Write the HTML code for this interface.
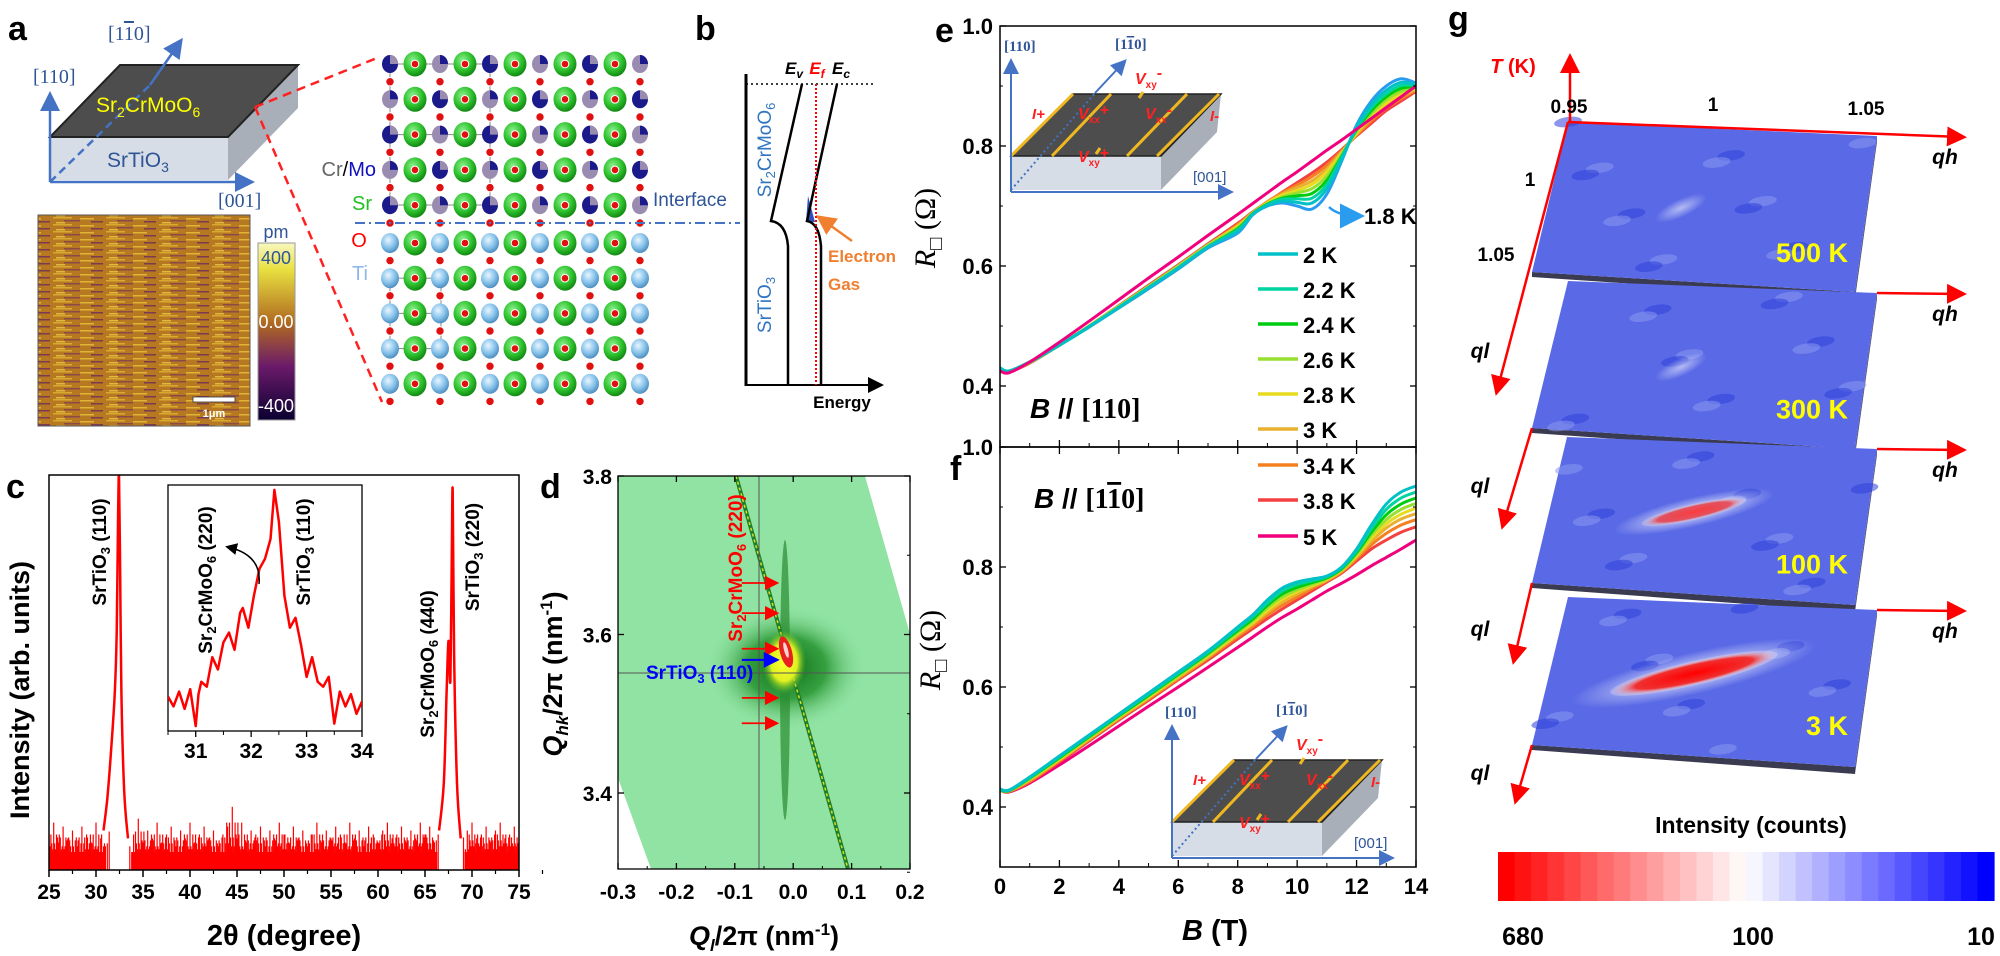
<!DOCTYPE html>
<html><head><meta charset="utf-8"><style>
html,body{margin:0;padding:0;background:#fff;}
svg{display:block;font-family:"Liberation Sans",sans-serif;}
.b{font-weight:bold;}
</style></head><body>
<svg id="fig" width="2000" height="956" viewBox="0 0 2000 956" xmlns="http://www.w3.org/2000/svg">
<defs>
 <radialGradient id="gSr" cx="40%" cy="35%" r="65%"><stop offset="0" stop-color="#8ef08e"/><stop offset="0.6" stop-color="#2fc42f"/><stop offset="1" stop-color="#138a13"/></radialGradient>
 <radialGradient id="gTi" cx="40%" cy="35%" r="65%"><stop offset="0" stop-color="#e8f6ff"/><stop offset="0.6" stop-color="#86c2ea"/><stop offset="1" stop-color="#4f8fc0"/></radialGradient>
 <radialGradient id="gBlob" cx="50%" cy="50%" r="50%"><stop offset="0" stop-color="#0c6a14"/><stop offset="0.5" stop-color="#1f8f28" stop-opacity="0.8"/><stop offset="1" stop-color="#8fe0a0" stop-opacity="0"/></radialGradient>
 <radialGradient id="gYel" cx="50%" cy="50%" r="50%"><stop offset="0" stop-color="#ffff30"/><stop offset="0.6" stop-color="#e0f020"/><stop offset="1" stop-color="#60c030" stop-opacity="0"/></radialGradient>
 <linearGradient id="gCbA" x1="0" y1="0" x2="0" y2="1"><stop offset="0" stop-color="#f8f8c0"/><stop offset="0.15" stop-color="#e8e040"/><stop offset="0.45" stop-color="#b06a20"/><stop offset="0.7" stop-color="#6a1a6a"/><stop offset="1" stop-color="#0a0030"/></linearGradient>
 <radialGradient id="gRed" cx="50%" cy="50%" r="50%"><stop offset="0" stop-color="#ff0000"/><stop offset="0.7" stop-color="#f03030"/><stop offset="1" stop-color="#ffffff" stop-opacity="0.2"/></radialGradient>
 <radialGradient id="gWhite" cx="50%" cy="50%" r="50%"><stop offset="0" stop-color="#ffffff" stop-opacity="0.9"/><stop offset="1" stop-color="#ffffff" stop-opacity="0"/></radialGradient>
 <pattern id="afmPat" width="53" height="7" patternUnits="userSpaceOnUse">
  <rect width="53" height="7" fill="#b67820"/>
  <rect x="0" y="0" width="19" height="1.5" fill="#d8a830"/>
  <rect x="27" y="1" width="14" height="1.5" fill="#e0b438"/>
  <rect x="11" y="3" width="16" height="1.5" fill="#8a4a48"/>
  <rect x="38" y="4" width="12" height="1.5" fill="#7a3a50"/>
  <rect x="3" y="5" width="9" height="1.5" fill="#e0b840"/>
 </pattern>
 <marker id="arB" markerWidth="8" markerHeight="8" refX="6" refY="4" orient="auto"><path d="M0,0 L8,4 L0,8 z" fill="#4472c4"/></marker>
 <marker id="arR" markerWidth="8" markerHeight="8" refX="6" refY="4" orient="auto"><path d="M0,0 L8,4 L0,8 z" fill="#ff0000"/></marker>
 <marker id="arK" markerWidth="8" markerHeight="8" refX="6" refY="4" orient="auto"><path d="M0,0 L8,4 L0,8 z" fill="#000"/></marker>
 <marker id="arO" markerWidth="8" markerHeight="8" refX="6" refY="4" orient="auto"><path d="M0,0 L8,4 L0,8 z" fill="#f08030"/></marker>
 <marker id="arBl" markerWidth="10" markerHeight="10" refX="8" refY="5" orient="auto"><path d="M0,0 L10,5 L0,10 z" fill="#2a9cf0"/></marker>
 <marker id="arN" markerWidth="8" markerHeight="8" refX="6" refY="4" orient="auto"><path d="M0,0 L8,4 L0,8 z" fill="#0000ff"/></marker>
 <clipPath id="clipC"><rect x="49" y="475" width="470" height="395"/></clipPath>
 <clipPath id="clipIn"><rect x="168" y="485" width="194" height="246"/></clipPath>
 <clipPath id="clipD"><rect x="618" y="476" width="292" height="393"/></clipPath>
 <clipPath id="clipE"><rect x="1000" y="26" width="416" height="421"/></clipPath>
 <clipPath id="clipF"><rect x="1000" y="447" width="416" height="420"/></clipPath>
</defs>

<!-- ========== PANEL A ========== -->
<g>
 <text x="8" y="40" font-size="34" class="b">a</text>
 <polygon points="50,137 228,137 228,180 50,180" fill="#d6dde7"/>
 <polygon points="228,137 298,65 298,108 228,180" fill="#a9afb8"/>
 <polygon points="120,65 298,65 228,137 50,137" fill="#4d4d4d" stroke="#222" stroke-width="2"/>
 <line x1="50" y1="182" x2="50" y2="96" stroke="#4472c4" stroke-width="2.5" marker-end="url(#arB)"/>
 <line x1="50" y1="182" x2="250" y2="182" stroke="#4472c4" stroke-width="2.5" marker-end="url(#arB)"/>
 <line x1="50" y1="182" x2="150" y2="85" stroke="#4472c4" stroke-width="2.5" stroke-dasharray="8,5"/>
 <line x1="150" y1="85" x2="180" y2="42" stroke="#4472c4" stroke-width="2.5" marker-end="url(#arB)"/>
 <text x="33" y="83" font-size="20" fill="#2f5597" font-family="Liberation Serif">[110]</text>
 <text x="108" y="40" font-size="20" fill="#2f5597" font-family="Liberation Serif">[1<tspan text-decoration="overline">1</tspan>0]</text>
 <text x="218" y="207" font-size="20" fill="#2f5597" font-family="Liberation Serif">[001]</text>
 <text x="96" y="112" font-size="21" fill="#ffff00">Sr<tspan font-size="14" dy="5">2</tspan><tspan dy="-5">CrMoO</tspan><tspan font-size="14" dy="5">6</tspan></text>
 <text x="107" y="167" font-size="21" fill="#2f5597">SrTiO<tspan font-size="14" dy="5">3</tspan></text>
 <line x1="255" y1="107" x2="377" y2="58" stroke="#ff2020" stroke-width="2.5" stroke-dasharray="9,6"/>
 <line x1="255" y1="107" x2="382" y2="402" stroke="#ff2020" stroke-width="2.5" stroke-dasharray="9,6"/>
 <rect x="38" y="215" width="212" height="211" fill="url(#afmPat)" stroke="#555" stroke-width="1"/>
 <rect x="193" y="397" width="42" height="5" fill="#fff" stroke="#333" stroke-width="0.8"/>
 <text x="214" y="417" font-size="11" fill="#fff" text-anchor="middle" class="b">1μm</text>
 <rect x="258" y="243" width="37" height="177" fill="url(#gCbA)" stroke="#999"/>
 <text x="276" y="238" font-size="18" fill="#2f5597" text-anchor="middle">pm</text>
 <text x="276" y="264" font-size="18" fill="#2f5597" text-anchor="middle">400</text>
 <text x="276" y="328" font-size="18" fill="#fff" text-anchor="middle">0.00</text>
 <text x="276" y="412" font-size="18" fill="#fff" text-anchor="middle">-400</text>
 <g id="lattice"></g>
 <line x1="355" y1="223" x2="740" y2="223" stroke="#4472c4" stroke-width="2" stroke-dasharray="10,4,2,4"/>
 <text x="376" y="176" font-size="20" text-anchor="end"><tspan fill="#666">Cr</tspan><tspan fill="#000">/</tspan><tspan fill="#1010c0">Mo</tspan></text>
 <text x="362" y="210" font-size="20" fill="#20c020" text-anchor="middle">Sr</text>
 <text x="359" y="247" font-size="20" fill="#ff0000" text-anchor="middle">O</text>
 <text x="360" y="280" font-size="20" fill="#8fb8e8" text-anchor="middle">Ti</text>
 <text x="653" y="206" font-size="19" fill="#2f5597">Interface</text>
</g>

<!-- ========== PANEL B ========== -->
<g>
 <text x="695" y="40" font-size="34" class="b">b</text>
 <line x1="746" y1="74" x2="746" y2="386" stroke="#000" stroke-width="3"/>
 <line x1="746" y1="385" x2="880" y2="385" stroke="#000" stroke-width="2" marker-end="url(#arK)"/>
 <text x="842" y="408" font-size="17" text-anchor="middle" class="b">Energy</text>
 <line x1="746" y1="84" x2="876" y2="84" stroke="#000" stroke-width="1.5" stroke-dasharray="2,3"/>
 <path d="M802,84 L771,221 Q786,223 788,246 L788,385" fill="none" stroke="#000" stroke-width="2.5"/>
 <path d="M808,196 L815,222 L806,222 Z" fill="#3050c0"/>
 <path d="M837,84 L807,221 Q819,223 821,246 L821,385" fill="none" stroke="#000" stroke-width="2.5"/>
 <line x1="816" y1="84" x2="816" y2="385" stroke="#ff0000" stroke-width="2" stroke-dasharray="2,2"/>
 <text x="794" y="74" font-size="17" text-anchor="middle" class="b" font-style="italic">E<tspan font-size="12" dy="4">v</tspan></text>
 <text x="817" y="74" font-size="17" text-anchor="middle" class="b" font-style="italic" fill="#ff0000">E<tspan font-size="12" dy="4">f</tspan></text>
 <text x="841" y="74" font-size="17" text-anchor="middle" class="b" font-style="italic">E<tspan font-size="12" dy="4">c</tspan></text>
 <text transform="translate(771,150) rotate(-90)" font-size="19" fill="#2f75c0" text-anchor="middle">Sr<tspan font-size="13" dy="4">2</tspan><tspan dy="-4">CrMoO</tspan><tspan font-size="13" dy="4">6</tspan></text>
 <text transform="translate(771,305) rotate(-90)" font-size="19" fill="#2f75c0" text-anchor="middle">SrTiO<tspan font-size="13" dy="4">3</tspan></text>
 <line x1="852" y1="241" x2="820" y2="218" stroke="#f08030" stroke-width="2.5" marker-end="url(#arO)"/>
 <text x="828" y="262" font-size="17" fill="#f08030" class="b">Electron</text>
 <text x="828" y="290" font-size="17" fill="#f08030" class="b">Gas</text>
</g>

<!-- ========== PANEL C ========== -->
<g id="panelC">
 <text x="6" y="498" font-size="34" class="b">c</text>
</g>

<!-- ========== PANEL D ========== -->
<g id="panelD">
 <text x="540" y="498" font-size="34" class="b">d</text>
 <g clip-path="url(#clipD)">
  <polygon points="618,476 865,476 910,634 910,869 651,869 618,778" fill="#90e3a2"/>
  <ellipse cx="786" cy="668" rx="80" ry="62" fill="url(#gBlob)"/>
  <ellipse cx="785" cy="680" rx="5" ry="140" fill="#2a8a30" opacity="0.7"/>
  <line x1="736" y1="476" x2="848" y2="869" stroke="#1f7f28" stroke-width="4"/>
  <line x1="736" y1="476" x2="848" y2="869" stroke="#d8e020" stroke-width="1.5" stroke-dasharray="3,3"/>
  <ellipse cx="784" cy="662" rx="22" ry="32" fill="url(#gYel)"/>
  <ellipse cx="786" cy="652" rx="6" ry="16" fill="#e82020" transform="rotate(-15 786 652)"/>
  <ellipse cx="786" cy="650" rx="2" ry="8" fill="#fff" opacity="0.8" transform="rotate(-15 786 650)"/>
  <line x1="759" y1="476" x2="759" y2="869" stroke="#555" stroke-width="1"/>
  <line x1="618" y1="673" x2="910" y2="673" stroke="#555" stroke-width="1"/>
 </g>
 <g id="dArrows"></g>
 <text transform="translate(742,568) rotate(-90)" font-size="19" fill="#ff0000" class="b" text-anchor="middle">Sr<tspan font-size="13" dy="4">2</tspan><tspan dy="-4">CrMoO</tspan><tspan font-size="13" dy="4">6</tspan><tspan dy="-4"> (220)</tspan></text>
 <text x="646" y="679" font-size="19" fill="#0000ff" class="b">SrTiO<tspan font-size="13" dy="4">3</tspan><tspan dy="-4"> (110)</tspan></text>
</g>

<!-- ========== PANEL E/F ========== -->
<g id="panelEF">
 <text x="935" y="42" font-size="34" class="b">e</text>
 <text x="950" y="480" font-size="34" class="b">f</text>
</g>

<!-- ========== PANEL G ========== -->
<g id="panelG">
 <text x="1448" y="30" font-size="34" class="b">g</text>
</g>

<g id="insetProto">
 <polygon points="1011,156 1161,156 1161,190 1011,190" fill="#d6dde7"/>
 <polygon points="1161,156 1221,94 1217,132 1161,190" fill="#a9afb8"/>
 <polygon points="1073,94 1221,94 1161,156 1011,156" fill="#4d4d4d" stroke="#222" stroke-width="1.5"/>
 <line x1="1011" y1="156" x2="1073" y2="94" stroke="#f0b820" stroke-width="3"/>
 <line x1="1052" y1="156" x2="1111" y2="94" stroke="#f0b820" stroke-width="3"/>
 <line x1="1127" y1="156" x2="1187" y2="94" stroke="#f0b820" stroke-width="3"/>
 <line x1="1157" y1="156" x2="1219" y2="94" stroke="#f0b820" stroke-width="3"/>
 <line x1="1096" y1="154" x2="1100" y2="148" stroke="#f0b820" stroke-width="3"/>
 <line x1="1139" y1="98" x2="1143" y2="92" stroke="#f0b820" stroke-width="3"/>
 <line x1="1011" y1="190" x2="1095" y2="93" stroke="#4472c4" stroke-width="2" stroke-dasharray="2,3"/>
 <line x1="1095" y1="93" x2="1124" y2="62" stroke="#4472c4" stroke-width="2" marker-end="url(#arB)"/>
 <line x1="1011" y1="192" x2="1011" y2="62" stroke="#4472c4" stroke-width="2" marker-end="url(#arB)"/>
 <line x1="1011" y1="192" x2="1230" y2="192" stroke="#4472c4" stroke-width="2" marker-end="url(#arB)"/>
 <text x="1004" y="51" font-size="15" fill="#2f5597" font-family="Liberation Serif" class="b">[110]</text>
 <text x="1115" y="49" font-size="15" fill="#2f5597" font-family="Liberation Serif" class="b">[1<tspan text-decoration="overline">1</tspan>0]</text>
 <text x="1193" y="182" font-size="15" fill="#2f5597">[001]</text>
 <text x="1032" y="119" font-size="15" fill="#ff2020" font-style="italic" class="b">I+</text>
 <text x="1078" y="119" font-size="16" fill="#ff2020" font-style="italic" class="b">V<tspan font-size="10" dy="4" font-style="normal">xx</tspan><tspan dy="-8" font-style="normal">+</tspan></text>
 <text x="1145" y="119" font-size="16" fill="#ff2020" font-style="italic" class="b">V<tspan font-size="10" dy="4" font-style="normal">xx</tspan><tspan dy="-8" font-style="normal">-</tspan></text>
 <text x="1210" y="121" font-size="15" fill="#ff2020" font-style="italic" class="b">I-</text>
 <text x="1135" y="84" font-size="16" fill="#ff2020" font-style="italic" class="b">V<tspan font-size="10" dy="4" font-style="normal">xy</tspan><tspan dy="-10" font-style="normal">-</tspan></text>
 <text x="1078" y="162" font-size="16" fill="#ff2020" font-style="italic" class="b">V<tspan font-size="10" dy="4" font-style="normal">xy</tspan><tspan dy="-8" font-style="normal">+</tspan></text>
</g>
</svg>

<script>
// ---------------- DATA: panel c ----------------
const cNoiseX = [25,25.5,26,26.5,27,27.5,28,28.5,29,29.5,30,30.5,31,34,34.5,35,35.5,36,36.5,37,37.5,38,38.5,39,39.5,40,40.5,41,41.5,42,42.5,43,43.5,44,44.5,45,45.5,46,46.5,47,47.5,48,48.5,49,49.5,50,50.5,51,51.5,52,52.5,53,53.5,54,54.5,55,55.5,56,56.5,57,57.5,58,58.5,59,59.5,60,60.5,61,61.5,62,62.5,63,63.5,64,64.5,65,65.5,66,69.5,70,70.5,71,71.5,72,72.5,73,73.5,74,74.5,75];
const cNoiseY = [0.09,0.12,0.07,0.11,0.08,0.10,0.06,0.11,0.09,0.07,0.12,0.08,0.06,0.09,0.13,0.07,0.10,0.08,0.12,0.07,0.09,0.11,0.06,0.10,0.08,0.12,0.07,0.09,0.11,0.08,0.10,0.06,0.09,0.11,0.16,0.08,0.12,0.07,0.10,0.09,0.11,0.06,0.10,0.08,0.12,0.09,0.07,0.11,0.08,0.10,0.06,0.09,0.12,0.07,0.10,0.08,0.11,0.09,0.07,0.12,0.08,0.10,0.06,0.11,0.09,0.07,0.10,0.12,0.08,0.09,0.11,0.07,0.10,0.08,0.12,0.09,0.11,0.07,0.10,0.12,0.08,0.09,0.11,0.07,0.10,0.12,0.08,0.09,0.11,0.08];
const cPeakX = [30.8,31.2,31.6,32.0,32.2,32.35,32.45,32.55,32.7,33.0,33.4];
const cPeakY = [0.10,0.18,0.30,0.45,0.60,0.90,1.00,0.80,0.45,0.20,0.08];
const cPeak2X = [66.5,67.0,67.3,67.5,67.7,67.85,67.95,68.1,68.4,68.8];
const cPeak2Y = [0.10,0.22,0.45,0.58,0.48,0.80,0.96,0.55,0.22,0.08];
const cTickLabels = ["25","30","35","40","45","50","55","60","65","70","75"];
const insX = [30.5,30.6,30.7,30.8,30.9,31.0,31.05,31.1,31.2,31.3,31.4,31.5,31.6,31.7,31.8,31.85,31.95,32.05,32.15,32.25,32.35,32.42,32.5,32.6,32.7,32.8,32.9,33.0,33.1,33.2,33.3,33.4,33.5,33.6,33.7,33.8,33.9,34.0];
const insY = [0.14,0.10,0.16,0.09,0.17,0.02,0.15,0.20,0.18,0.30,0.25,0.36,0.40,0.33,0.48,0.50,0.42,0.55,0.66,0.70,0.78,0.98,0.85,0.55,0.42,0.46,0.35,0.22,0.30,0.20,0.18,0.22,0.03,0.16,0.10,0.15,0.07,0.12];
const insTickLabels = ["31","32","33","34"];

// ---------------- DATA: panel d ----------------
const dXTicks = ["-0.3","-0.2","-0.1","0.0","0.1","0.2"];
const dYTicks = ["3.4","3.6","3.8"];
const dArrowY = [3.665,3.627,3.582,3.52,3.488];
const dBlueArrowY = 3.568;

// ---------------- DATA: panels e/f ----------------
const bField = [0,0.3,1,2,3,4,5,6,7,8,8.5,9,9.5,10,10.5,11,11.5,12,12.5,13,13.5,14];
const tempLabels = ["2 K","2.2 K","2.4 K","2.6 K","2.8 K","3 K","3.4 K","3.8 K","5 K"];
const eR18 = [.43,.425,.44,.468,.498,.53,.562,.595,.63,.655,.685,.70,.705,.70,.695,.72,.775,.835,.875,.90,.912,.905];
const eR2  = [.43,.425,.44,.468,.499,.531,.564,.597,.632,.658,.686,.701,.708,.706,.705,.729,.778,.832,.869,.893,.906,.903];
const eR22 = [.43,.425,.44,.468,.499,.531,.564,.597,.632,.660,.686,.702,.711,.712,.713,.736,.781,.829,.864,.887,.901,.901];
const eR24 = [.43,.425,.44,.468,.499,.531,.564,.597,.632,.662,.687,.703,.713,.717,.721,.743,.783,.827,.859,.882,.896,.899];
const eR26 = [.428,.424,.439,.468,.5,.533,.566,.6,.635,.664,.688,.704,.715,.722,.729,.750,.786,.825,.854,.877,.891,.897];
const eR28 = [.428,.424,.439,.468,.5,.533,.566,.6,.635,.666,.688,.705,.718,.726,.736,.757,.788,.822,.850,.872,.887,.896];
const eR3  = [.428,.424,.439,.468,.5,.533,.566,.6,.635,.667,.689,.706,.720,.731,.742,.762,.790,.820,.846,.867,.883,.894];
const eR34 = [.428,.424,.439,.468,.5,.533,.566,.6,.635,.669,.689,.707,.722,.735,.749,.768,.792,.818,.842,.863,.879,.893];
const eR38 = [.428,.424,.438,.468,.5,.534,.568,.602,.637,.671,.690,.707,.723,.739,.755,.773,.794,.817,.838,.859,.875,.891];
const eR5  = [.425,.422,.44,.473,.508,.544,.58,.615,.651,.686,.704,.722,.74,.757,.775,.793,.81,.828,.846,.864,.882,.90];
const fR2  = [.43,.428,.45,.485,.52,.555,.59,.625,.66,.70,.72,.745,.765,.775,.78,.785,.80,.83,.87,.905,.925,.935];
const fR22 = [.430,.428,.449,.484,.519,.554,.588,.623,.658,.697,.717,.740,.760,.771,.777,.784,.799,.827,.864,.896,.915,.925];
const fR24 = [.429,.427,.448,.482,.517,.552,.586,.621,.656,.694,.713,.736,.755,.766,.774,.782,.797,.824,.858,.887,.905,.915];
const fR26 = [.429,.427,.447,.481,.516,.551,.585,.619,.654,.691,.710,.732,.750,.762,.771,.781,.796,.821,.853,.879,.896,.906];
const fR28 = [.429,.427,.446,.48,.515,.55,.583,.618,.652,.689,.707,.728,.746,.759,.769,.78,.795,.819,.848,.872,.888,.898];
const fR3  = [.429,.427,.445,.478,.513,.548,.582,.616,.65,.687,.705,.724,.742,.755,.767,.778,.793,.817,.843,.865,.88,.889];
const fR34 = [.428,.426,.443,.477,.512,.547,.58,.614,.648,.684,.701,.72,.736,.75,.764,.777,.792,.814,.837,.856,.87,.879];
const fR38 = [.428,.426,.442,.475,.51,.545,.578,.612,.645,.68,.697,.714,.73,.745,.76,.775,.79,.81,.83,.845,.858,.867];
const fR5  = [.428,.425,.44,.47,.502,.535,.568,.6,.633,.666,.683,.70,.716,.73,.745,.76,.773,.787,.802,.816,.83,.845];
const efXTicks = ["0","2","4","6","8","10","12","14"];
const efYTicks = ["0.4","0.6","0.8","1.0"];

// ---------------- DATA: panel g ----------------
const gTemps = ["500 K","300 K","100 K","3 K"];
const gPeakStrength = [0.05,0.1,0.55,1.0];
const gCbLabels = ["680","100","10"];

const NS = "http://www.w3.org/2000/svg";
function mk(tag, attrs, parent){ const e=document.createElementNS(NS,tag); for(const k in attrs) e.setAttribute(k,attrs[k]); if(parent) parent.appendChild(e); return e; }
function smooth(pts){ if(pts.length<2) return ""; let d="M"+pts[0][0].toFixed(1)+","+pts[0][1].toFixed(1);
 for(let i=0;i<pts.length-1;i++){ const p0=pts[Math.max(0,i-1)],p1=pts[i],p2=pts[i+1],p3=pts[Math.min(pts.length-1,i+2)];
  const c1=[p1[0]+(p2[0]-p0[0])/6,p1[1]+(p2[1]-p0[1])/6], c2=[p2[0]-(p3[0]-p1[0])/6,p2[1]-(p3[1]-p1[1])/6];
  d+=" C"+c1[0].toFixed(1)+","+c1[1].toFixed(1)+" "+c2[0].toFixed(1)+","+c2[1].toFixed(1)+" "+p2[0].toFixed(1)+","+p2[1].toFixed(1);} return d; }

// ---------- lattice (panel a) ----------
(function(){
 const g=document.getElementById('lattice');
 const x0=390, dx=25;
 const filmRows=[64,99.3,134.6,169.9,205.2], stoRows=[243,278.2,313.4,348.6,383.8];
 const oRows=[81.7,117,152.3,187.6,223,260.6,295.8,331,366.2,401.4];
 mk('rect',{x:390,y:64,width:100,height:141,fill:'none',stroke:'#888','stroke-width':1},g);
 mk('line',{x1:390,y1:134.6,x2:490,y2:134.6,stroke:'#888','stroke-width':1},g);
 mk('rect',{x:390,y:278.2,width:51,height:70.4,fill:'none',stroke:'#888','stroke-width':1},g);
 mk('line',{x1:390,y1:313.4,x2:441,y2:313.4,stroke:'#888','stroke-width':1},g);
 for(const y of oRows) for(let i=0;i<11;i+=2){ const c=mk('circle',{cx:x0+dx*i,cy:y,r:4.2,fill:'#e01010',stroke:'#fff','stroke-width':1},g);
    }
 filmRows.forEach((y,r)=>{ for(let i=0;i<11;i++){ const x=x0+dx*i;
  if(i%2===1){ const s=mk('ellipse',{cx:x,cy:y,rx:11.5,ry:12.5,fill:'url(#gSr)'},g);
    
   mk('circle',{cx:x,cy:y,r:3.8,fill:'#e01010',stroke:'#fff','stroke-width':1},g); }
  else { const dark=((i/2+r)%2===0); const a=mk('ellipse',{cx:x,cy:y,rx:8,ry:9,fill:dark?'#1a1a8a':'#9a8cb0'},g);
    
   mk('path',{d:`M${x},${y} L${x},${y-9} A8,9 0 0 1 ${x+8},${y} Z`,fill:dark?'#9a8cb0':'#1a1a8a'},g); } } });
 stoRows.forEach((y)=>{ for(let i=0;i<11;i++){ const x=x0+dx*i;
  if(i%2===1){ const s=mk('ellipse',{cx:x,cy:y,rx:11.5,ry:12.5,fill:'url(#gSr)'},g);
    
   mk('circle',{cx:x,cy:y,r:3.8,fill:'#e01010',stroke:'#fff','stroke-width':1},g); }
  else { const t=mk('ellipse',{cx:x,cy:y,rx:9,ry:10,fill:'url(#gTi)'},g);
     } } });
})();

// ---------- panel c ----------
(function(){
 const g=document.getElementById('panelC');
 const L=49,R=519,T=475,B=870;
 const xs=v=>L+(v-25)/50*(R-L), ys=v=>B-v*(B-T);
 const plot=mk('g',{'clip-path':'url(#clipC)'},g);
  
 mk('rect',{x:L,y:B-18,width:xs(31)-L,height:18,fill:'#ff0000'},plot);
 mk('rect',{x:xs(33.8),y:B-18,width:xs(66.3)-xs(33.8),height:18,fill:'#ff0000'},plot);
 mk('rect',{x:xs(69.2),y:B-18,width:R-xs(69.2),height:18,fill:'#ff0000'},plot);
 cNoiseX.forEach((x,i)=>{ for(let k=-2;k<=2;k++){ const h=cNoiseY[(i+k+cNoiseY.length)%cNoiseY.length]*(k===0?1:0.75);
  const l=mk('line',{x1:xs(x)+k*1.9,y1:B,x2:xs(x)+k*1.9,y2:ys(h),stroke:'#ff0000','stroke-width':1.2},plot);
    } });
 const p1=mk('path',{d:smooth(cPeakX.map((x,i)=>[xs(x),ys(cPeakY[i])])),fill:'none',stroke:'#ff0000','stroke-width':2.5},plot);
  
 const p2=mk('path',{d:smooth(cPeak2X.map((x,i)=>[xs(x),ys(cPeak2Y[i])])),fill:'none',stroke:'#ff0000','stroke-width':2.5},plot);
  
 const fr=mk('rect',{x:L,y:T,width:R-L,height:B-T,fill:'none',stroke:'#000','stroke-width':1.5},g);
  
 cTickLabels.forEach((lab,i)=>{ const v=25+5*i, x=xs(v);
  mk('line',{x1:x,y1:B,x2:x,y2:B+7,stroke:'#000','stroke-width':1.5},g);
  mk('line',{x1:xs(v+2.5),y1:B,x2:xs(v+2.5),y2:B+4,stroke:'#000','stroke-width':1.2},g);
  const t=mk('text',{x:x,y:B+29,'font-size':21,'font-weight':'bold','text-anchor':'middle'},g); t.textContent=lab;
    });
 const xt=mk('text',{x:284,y:945,'font-size':29,'font-weight':'bold','text-anchor':'middle'},g); xt.textContent="2θ (degree)";
  
 const yt=mk('text',{transform:'translate(29,690) rotate(-90)','font-size':27,'font-weight':'bold','text-anchor':'middle'},g); yt.textContent="Intensity (arb. units)";
  
 function rlab(x,yc,html,name){ const t=mk('text',{transform:`translate(${x},${yc}) rotate(-90)`,'font-size':19,'font-weight':'bold','text-anchor':'middle'},g); t.innerHTML=html;
    }
 rlab(106,552,'SrTiO<tspan font-size="13" dy="4">3</tspan><tspan dy="-4"> (110)</tspan>','label-sto-110');
 rlab(434,664,'Sr<tspan font-size="13" dy="4">2</tspan><tspan dy="-4">CrMoO</tspan><tspan font-size="13" dy="4">6</tspan><tspan dy="-4"> (440)</tspan>','label-scmo-440');
 rlab(479,557,'SrTiO<tspan font-size="13" dy="4">3</tspan><tspan dy="-4"> (220)</tspan>','label-sto-220');
 // inset
 const iL=168,iR=362,iT=485,iB=731;
 const ixs=v=>iL+(v-30.5)/3.5*(iR-iL), iys=v=>iB-v*(iB-iT);
 const ib=mk('rect',{x:iL,y:iT,width:iR-iL,height:iB-iT,fill:'#fff',stroke:'#000','stroke-width':1.3},g);
  
 const ig=mk('g',{'clip-path':'url(#clipIn)'},g);
 const ip=mk('path',{d:"M"+insX.map((x,i)=>ixs(x).toFixed(1)+","+iys(insY[i]).toFixed(1)).join(" L"),fill:'none',stroke:'#ff0000','stroke-width':2.5,'stroke-linejoin':'round'},ig);
  
 insTickLabels.forEach((lab,i)=>{ const x=ixs(31+i);
  mk('line',{x1:x,y1:iB,x2:x,y2:iB+6,stroke:'#000','stroke-width':1.3},g);
  mk('line',{x1:ixs(30.5+i),y1:iB,x2:ixs(30.5+i),y2:iB+4,stroke:'#000','stroke-width':1},g);
  const t=mk('text',{x:x,y:iB+27,'font-size':21,'font-weight':'bold','text-anchor':'middle'},g); t.textContent=lab;
    });
 rlab(212,580,'Sr<tspan font-size="13" dy="4">2</tspan><tspan dy="-4">CrMoO</tspan><tspan font-size="13" dy="4">6</tspan><tspan dy="-4"> (220)</tspan>','inset-label-scmo-220');
 rlab(310,552,'SrTiO<tspan font-size="13" dy="4">3</tspan><tspan dy="-4"> (110)</tspan>','inset-label-sto-110');
 const ca=mk('path',{d:'M259,584 Q262,555 228,547',fill:'none',stroke:'#000','stroke-width':1.5,'marker-end':'url(#arK)'},g);
  
})();

// ---------- panel d axes ----------
(function(){
 const g=document.getElementById('panelD');
 const L=618,R=910,T=476,B=869;
 const xs=v=>L+(v+0.3)/0.5*(R-L), ys=v=>T+(3.8-v)/0.4*(793-T);
 const ag=document.getElementById('dArrows');
 dArrowY.forEach(v=>{ const a=mk('line',{x1:xs(-0.088),y1:ys(v),x2:xs(-0.03),y2:ys(v),stroke:'#ff0000','stroke-width':1.8,'marker-end':'url(#arR)'},ag);
    });
 const ba=mk('line',{x1:xs(-0.088),y1:ys(dBlueArrowY),x2:xs(-0.03),y2:ys(dBlueArrowY),stroke:'#0000ff','stroke-width':2,'marker-end':'url(#arN)'},ag);
  
 const fr=mk('rect',{x:L,y:T,width:R-L,height:B-T,fill:'none',stroke:'#000','stroke-width':1.3},g);
  
 dXTicks.forEach((lab,i)=>{ const v=-0.3+0.1*i, x=xs(v);
  mk('line',{x1:x,y1:B,x2:x,y2:B-6,stroke:'#000','stroke-width':1.3},g);
  mk('line',{x1:x,y1:T,x2:x,y2:T+6,stroke:'#000','stroke-width':1.3},g);
  if(i<5){ mk('line',{x1:xs(v+0.05),y1:B,x2:xs(v+0.05),y2:B-3,stroke:'#000','stroke-width':1},g); }
  const t=mk('text',{x:x,y:B+30,'font-size':21,'font-weight':'bold','text-anchor':'middle'},g); t.textContent=lab;
    });
 dYTicks.forEach((lab,i)=>{ const v=3.4+0.2*i, y=ys(v);
  mk('line',{x1:L,y1:y,x2:L+6,y2:y,stroke:'#000','stroke-width':1.3},g);
  mk('line',{x1:R,y1:y,x2:R-6,y2:y,stroke:'#000','stroke-width':1.3},g);
  mk('line',{x1:R,y1:ys(v-0.1),x2:R-3,y2:ys(v-0.1),stroke:'#000','stroke-width':1},g);
  const t=mk('text',{x:L-6,y:y+8,'font-size':21,'font-weight':'bold','text-anchor':'end'},g); t.textContent=lab;
    });
 const xt=mk('text',{x:764,y:945,'font-size':27,'font-weight':'bold','text-anchor':'middle'},g);
 xt.innerHTML='<tspan font-style="italic">Q</tspan><tspan font-size="17" dy="6" font-style="italic">l</tspan><tspan dy="-6">/2π (nm</tspan><tspan font-size="17" dy="-10">-1</tspan><tspan dy="10">)</tspan>';
  
 const yt=mk('text',{transform:'translate(562,674) rotate(-90)','font-size':27,'font-weight':'bold','text-anchor':'middle'},g);
 yt.innerHTML='<tspan font-style="italic">Q</tspan><tspan font-size="17" dy="6" font-style="italic">hk</tspan><tspan dy="-6">/2π (nm</tspan><tspan font-size="17" dy="-10">-1</tspan><tspan dy="10">)</tspan>';
  
})();

// ---------- panels e/f ----------
(function(){
 const g=document.getElementById('panelEF');
 const L=1000,R=1416;
 const xs=v=>L+v/14*(R-L);
 const yE=v=>26+(1.0-v)*600, yF=v=>447+(1.0-v)*600;
 const colors=['#00c0c8','#00d4a0','#00cc10','#98e030','#e8dc20','#eab030','#f48020','#f44040','#f0007c'];
 const eSets=[eR2,eR22,eR24,eR26,eR28,eR3,eR34,eR38,eR5];
 const fSets=[fR2,fR22,fR24,fR26,fR28,fR3,fR34,fR38,fR5];
 const ge=mk('g',{'clip-path':'url(#clipE)'},g), gf=mk('g',{'clip-path':'url(#clipF)'},g);
 const e18=mk('path',{d:smooth(bField.map((b,i)=>[xs(b),yE(eR18[i])])),fill:'none',stroke:'#2a9cf0','stroke-width':3},ge);
  
 [7,6,5,4,3,2,1,0,8].forEach(k=>{
  const pe=mk('path',{d:smooth(bField.map((b,i)=>[xs(b),yE(eSets[k][i])])),fill:'none',stroke:colors[k],'stroke-width':3},ge);
  
  
 });
 [8,7,6,5,4,3,2,1,0].forEach(k=>{
  const pf=mk('path',{d:smooth(bField.map((b,i)=>[xs(b),yF(fSets[k][i])])),fill:'none',stroke:colors[k],'stroke-width':3},gf);
  
  
 });
 const fe=mk('rect',{x:L,y:26,width:R-L,height:421,fill:'none',stroke:'#000','stroke-width':1.5},g);
  
 const ff=mk('rect',{x:L,y:447,width:R-L,height:420,fill:'none',stroke:'#000','stroke-width':1.5},g);
  
 efYTicks.forEach((lab,i)=>{ const v=0.4+0.2*i;
  [yE,yF].forEach((fy,j)=>{ const y=fy(v);
   mk('line',{x1:L,y1:y,x2:L+6,y2:y,stroke:'#000','stroke-width':1.3},g);
   mk('line',{x1:R,y1:y,x2:R-6,y2:y,stroke:'#000','stroke-width':1.3},g);
   if(i<3){ mk('line',{x1:L,y1:fy(v+0.1),x2:L+3,y2:fy(v+0.1),stroke:'#000','stroke-width':1},g);
            mk('line',{x1:R,y1:fy(v+0.1),x2:R-3,y2:fy(v+0.1),stroke:'#000','stroke-width':1},g); }
   const t=mk('text',{x:L-7,y:y+8,'font-size':22,'font-weight':'bold','text-anchor':'end'},g); t.textContent=lab;
     }); });
 efXTicks.forEach((lab,i)=>{ const v=2*i, x=xs(v);
  [447,867].forEach(y=>{ mk('line',{x1:x,y1:y,x2:x,y2:y-7,stroke:'#000','stroke-width':1.3},g); });
  mk('line',{x1:x,y1:447,x2:x,y2:454,stroke:'#000','stroke-width':1.3},g);
  if(i<7){ [447,867].forEach(y=>{ mk('line',{x1:xs(v+1),y1:y,x2:xs(v+1),y2:y-4,stroke:'#000','stroke-width':1},g); }); }
  const t=mk('text',{x:x,y:894,'font-size':22,'font-weight':'bold','text-anchor':'middle'},g); t.textContent=lab;
    });
 const xt=mk('text',{x:1215,y:940,'font-size':29,'font-weight':'bold','text-anchor':'middle'},g);
 xt.innerHTML='<tspan font-style="italic">B</tspan> (T)';
  
 [[935,228,'y-axis-title-e'],[940,650,'y-axis-title-f']].forEach(a=>{
  const t=mk('text',{transform:`translate(${a[0]},${a[1]}) rotate(-90)`,'font-size':30,'font-family':'Liberation Serif','text-anchor':'middle'},g);
  t.innerHTML='<tspan font-style="italic">R</tspan><tspan font-size="20" dy="7">□</tspan><tspan dy="-7"> (Ω)</tspan>';
    });
 const be=mk('text',{x:1030,y:418,'font-size':28,'font-weight':'bold'},g);
 be.innerHTML='<tspan font-style="italic">B</tspan> // <tspan font-family="Liberation Serif">[110]</tspan>';
  
 const bf=mk('text',{x:1034,y:508,'font-size':28,'font-weight':'bold'},g);
 bf.innerHTML='<tspan font-style="italic">B</tspan> // <tspan font-family="Liberation Serif">[1<tspan text-decoration="overline">1</tspan>0]</tspan>';
  
 const legY=[254,289,324,359,394,429,465,500,536];
 tempLabels.forEach((lab,k)=>{ const y=legY[k];
  const ln=mk('line',{x1:1258,y1:y,x2:1298,y2:y,stroke:colors[k],'stroke-width':3.5},g);
   
  const t=mk('text',{x:1303,y:y+9,'font-size':22,'font-weight':'bold'},g); t.textContent=lab;
    });
 const ar=mk('path',{d:'M1329,207 Q1338,216 1360,216',fill:'none',stroke:'#2a9cf0','stroke-width':2.5,'marker-end':'url(#arBl)'},g);
  
 const l18=mk('text',{x:1364,y:224,'font-size':22,'font-weight':'bold'},g); l18.textContent="1.8 K";
  
 const proto=document.getElementById('insetProto');
 const cl=proto.cloneNode(true); cl.removeAttribute('id');
 cl.setAttribute('transform','translate(161,666)');
 
 
 proto.parentNode.appendChild(cl);
})();

// ---------- panel g ----------
(function(){
 const g=document.getElementById('panelG');
 const slabs=[[122,136,292,272],[281,293,449,428],[437,449,605,583],[597,610,767,745]];
 const leftX=[1568,1568,1567,1568], rightTop=1877, rightBot=1855, leftBot=1532;
 const qlEnd=[[1497,391],[1503,525],[1514,660],[1516,800]];
 slabs.forEach((s,k)=>{
  const [tl,tr,br,bl]=s, xl=leftX[k];
  const grp=mk('g',{},g);  
  mk('polygon',{points:`${leftBot},${bl} ${rightBot},${br} ${rightBot},${br+7} ${leftBot},${bl+5}`,fill:'#3a3a50'},grp);
  mk('polygon',{points:`${rightTop},${tr} ${rightTop},${tr+6} ${rightBot},${br+7} ${rightBot},${br}`,fill:'#505078'},grp);
  mk('polygon',{points:`${xl},${tl} ${rightTop},${tr} ${rightBot},${br} ${leftBot},${bl}`,fill:'#5a6ae6'},grp);
  for(let j=0;j<14;j++){ const u=(j*0.137+k*0.31)%1, v=(j*0.293+k*0.17)%1;
   const cx=leftBot+(xl-leftBot)*(1-v)+u*(rightTop-xl), cy=tl+(bl-tl)*v+u*(tr-tl);
   mk('ellipse',{cx:cx.toFixed(1),cy:cy.toFixed(1),rx:14,ry:5,fill:(j%2?'#8b98f0':'#3040d8'),opacity:0.55,transform:`rotate(-8 ${cx.toFixed(1)} ${cy.toFixed(1)})`},grp); }
  const ps=gPeakStrength[k];
  const cx=1694, cy=tl+(bl-tl)*0.48+(tr-tl)*0.4;
  if(ps>0.3){ mk('ellipse',{cx:cx,cy:cy,rx:95*ps+30,ry:14*ps+7,fill:'url(#gWhite)',transform:`rotate(-13 ${cx} ${cy})`},grp);
   mk('ellipse',{cx:cx,cy:cy,rx:72*ps+14,ry:9*ps+3,fill:'url(#gRed)',opacity:Math.min(1,ps+0.2),transform:`rotate(-13 ${cx} ${cy})`},grp); }
  else { mk('ellipse',{cx:1681,cy:tl+86,rx:28,ry:9,fill:'url(#gWhite)',opacity:0.6,transform:`rotate(-25 1681 ${tl+86})`},grp); }
  const lbl=mk('text',{x:1848,y:tl+(bl-tl)*0.88+8,'font-size':27,'font-weight':'bold',fill:'#ffff00','text-anchor':'end'},g);
  lbl.textContent=gTemps[k];  
  const qh=mk('line',{x1:k===0?xl:rightTop,y1:k===0?tl:tr,x2:1962,y2:tr+1,stroke:'#ff0000','stroke-width':2.5,'marker-end':'url(#arR)'},g);
   
  const ql=mk('line',{x1:k===0?xl:leftBot,y1:k===0?tl:bl,x2:qlEnd[k][0],y2:qlEnd[k][1],stroke:'#ff0000','stroke-width':2.5,'marker-end':'url(#arR)'},g);
   
  const tqh=mk('text',{x:1945,y:tr+28,'font-size':21,'font-weight':'bold','font-style':'italic','text-anchor':'middle'},g); tqh.textContent='qh';
   
  const tql=mk('text',{x:1480,y:[358,493,636,780][k],'font-size':21,'font-weight':'bold','font-style':'italic','text-anchor':'middle'},g); tql.textContent='ql';
   
 });
 const tax=mk('line',{x1:1570,y1:122,x2:1570,y2:58,stroke:'#ff0000','stroke-width':2.5,'marker-end':'url(#arR)'},g);
  
 const tlab=mk('text',{x:1513,y:73,'font-size':20,'font-weight':'bold',fill:'#ff0000','text-anchor':'middle'},g);
 tlab.innerHTML='<tspan font-style="italic">T</tspan> (K)';  
 [['0.95',1569,113],['1',1713,111],['1.05',1866,115],['1',1530,186],['1.05',1496,261]].forEach(a=>{
  const t=mk('text',{x:a[1],y:a[2],'font-size':19,'font-weight':'bold','text-anchor':'middle'},g); t.textContent=a[0];
    });
 const ct=mk('text',{x:1751,y:833,'font-size':23,'font-weight':'bold','text-anchor':'middle'},g); ct.textContent='Intensity (counts)';
  
 const n=30, x0=1498, w=(1994-1498)/n;
 for(let i=0;i<n;i++){ const t=i/(n-1); let r,gg,b;
  if(t<0.5){ const u=t/0.5; r=255; gg=Math.round(255*u); b=Math.round(255*u);} else { const u=(t-0.5)/0.5; r=Math.round(255*(1-u)); gg=Math.round(255*(1-u)); b=255; }
  const c=mk('rect',{x:(x0+i*w).toFixed(2),y:852,width:(w+0.6).toFixed(2),height:49,fill:`rgb(${r},${gg},${b})`},g);
    }
 [[gCbLabels[0],1523],[gCbLabels[1],1753],[gCbLabels[2],1981]].forEach(a=>{
  const t=mk('text',{x:a[1],y:945,'font-size':25,'font-weight':'bold','text-anchor':'middle'},g); t.textContent=a[0];
    });
})();
</script>
</body></html>
